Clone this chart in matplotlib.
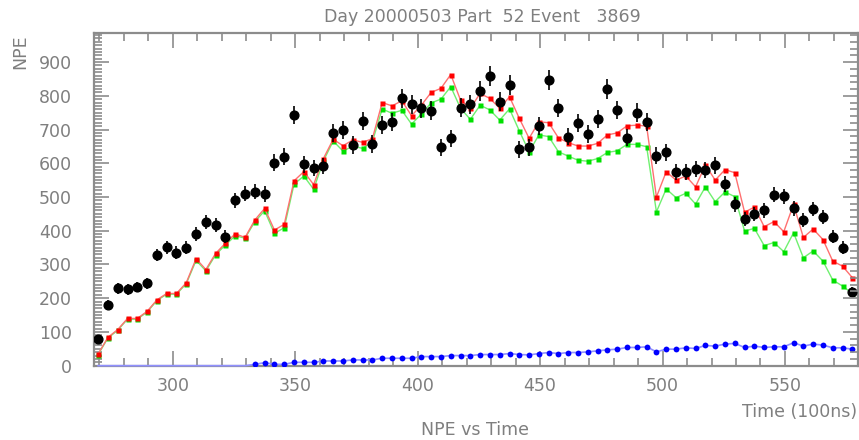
import numpy as np
import matplotlib
matplotlib.use("Agg")
import matplotlib.pyplot as plt
from matplotlib.ticker import MultipleLocator

# ---- data ----
t0 = 269.5      # first time bin (100 ns)
dt = 4.0        # bin width (100 ns)

black_npe = [79, 180, 229, 226, 234, 244, 328, 351, 335, 350,
             390, 427, 417, 382, 491, 510, 516, 509, 602, 619,
             743, 597, 585, 592, 690, 698, 654, 726, 657, 713,
             723, 792, 775, 763, 756, 647, 674, 765, 775, 814,
             858, 782, 832, 642, 647, 710, 846, 764, 679, 718,
             687, 731, 820, 758, 676, 750, 723, 622, 632, 575,
             575, 582, 581, 594, 539, 478, 434, 450, 460, 507,
             502, 466, 431, 464, 440, 382, 350, 219]

red_npe = [35, 84, 107, 140, 140, 161, 195, 214, 214, 246,
           317, 285, 333, 363, 391, 380, 432, 466, 402, 419,
           548, 575, 537, 614, 671, 652, 669, 662, 673, 780,
           770, 785, 741, 772, 810, 822, 863, 787, 763, 807,
           792, 763, 797, 733, 674, 723, 720, 675, 661, 651,
           651, 659, 684, 690, 711, 713, 710, 500, 575, 550,
           562, 530, 595, 550, 581, 572, 455, 470, 412, 427,
           397, 478, 380, 405, 374, 310, 295, 261]

green_npe = [33, 82, 105, 138, 138, 159, 193, 212, 212, 243,
             312, 281, 329, 358, 385, 378, 427, 459, 392, 409,
             538, 562, 523, 607, 666, 636, 651, 644, 664, 761,
             748, 757, 716, 746, 779, 790, 827, 763, 730, 772,
             758, 728, 761, 696, 634, 684, 679, 634, 621, 609,
             606, 614, 632, 637, 656, 656, 649, 456, 524, 498,
             511, 479, 530, 486, 515, 501, 399, 407, 356, 365,
             338, 394, 320, 340, 310, 254, 236, 214]

blue_npe = [0, 0, 0, 0, 0, 0, 0, 0, 0, 0,
            0, 0, 0, 0, 0, 0, 4, 9, 4, 4,
            10, 10, 10, 14, 14, 14, 17, 17, 17, 22,
            22, 22, 22, 27, 27, 27, 30, 30, 30, 33,
            33, 33, 36, 33, 32, 36, 39, 36, 39, 39,
            41, 44, 47, 49, 54, 54, 56, 41, 49, 49,
            53, 51, 60, 58, 64, 66, 54, 58, 54, 56,
            56, 68, 58, 64, 61, 53, 53, 49]

time = t0 + dt * np.arange(len(black_npe))

title = "Day 20000503 Part  52 Event   3869"
xlabel = "Time (100ns)"
ylabel = "NPE"
subtitle = "NPE vs Time"

# ---- figure ----
TXT = "#7f7f7f"
AX = "#8c8c8c"
plt.rcParams["font.family"] = ["DejaVu Sans"]

fig = plt.figure(figsize=(8.59, 4.40), dpi=100)
ax = fig.add_axes([0.1094, 0.1689, 0.8891, 0.7568])
ax.set_xlim(267.8, 579.7)
ax.set_ylim(0, 987)

blue = np.array(blue_npe, dtype=float)
ax.plot(time, blue, color="#9090ff", lw=1.2, zorder=2.6, clip_on=False)
ax.plot(time[blue > 0], blue[blue > 0], 'o', color="#0000ff", ms=4.2, mec="none", zorder=3)

ax.plot(time, green_npe, '-', color="#70f070", lw=1.0, zorder=3)
ax.plot(time, green_npe, 's', color="#00e000", ms=3.6, mec="none", zorder=3)
ax.plot(time, red_npe, '-', color="#ff7070", lw=1.0, zorder=4)
ax.plot(time, red_npe, 's', color="#ff0000", ms=3.6, mec="none", zorder=4)

black = np.array(black_npe, dtype=float)
ax.errorbar(time, black, yerr=np.sqrt(black), fmt='o', color="black",
            ms=6.3, elinewidth=1.2, capsize=0, zorder=5)

# axes style (inward ticks on all sides)
for s in ax.spines.values():
    s.set_color(AX)
    s.set_linewidth(1.6)
ax.xaxis.set_major_locator(MultipleLocator(50))
ax.xaxis.set_minor_locator(MultipleLocator(10))
ax.yaxis.set_major_locator(MultipleLocator(100))
ax.yaxis.set_minor_locator(MultipleLocator(10))
ax.tick_params(which="both", direction="in", color=AX, width=1.2,
               top=True, right=False, labelcolor=TXT, labelsize=12.5)
ax.tick_params(which="major", length=11)
ax.tick_params(which="minor", length=5.5)
ax.tick_params(axis="x", pad=8)
ax.tick_params(axis="y", pad=16)

ax2 = ax.twinx()
ax2.set_ylim(ax.get_ylim())
ax2.yaxis.set_major_locator(MultipleLocator(100))
ax2.yaxis.set_minor_locator(MultipleLocator(20))
ax2.tick_params(which="both", direction="in", color=AX, width=1.2, labelright=False)
ax2.tick_params(which="major", length=11)
ax2.tick_params(which="minor", length=5.5)
for s in ax2.spines.values():
    s.set_visible(False)

fig.text(0.5617, 0.962, title, ha="center", va="center", color=TXT, fontsize=12.5)
fig.text(0.9977, 0.064, xlabel, ha="right", va="center", color=TXT, fontsize=12.5)
fig.text(0.553, 0.022, subtitle, ha="center", va="center", color=TXT, fontsize=12.5)
fig.text(0.0233, 0.882, ylabel, ha="center", va="center", rotation=90, color=TXT, fontsize=12.5)

fig.savefig("out.png", dpi=100)
